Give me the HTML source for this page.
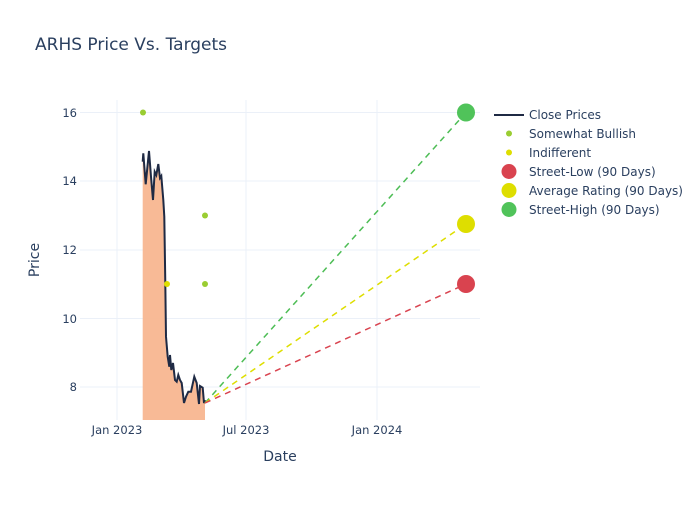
<!DOCTYPE html>
<html><head><meta charset="utf-8"><style>
body{margin:0;background:#fff;}
svg text{font-family:"DejaVu Sans","Liberation Sans",sans-serif;fill:#2a3f5f;}
</style></head><body>
<svg width="700" height="500" xmlns="http://www.w3.org/2000/svg">
<rect width="700" height="500" fill="#fff"/>
<text x="35" y="50" font-size="17">ARHS Price Vs. Targets</text>
<g stroke="#ebf0f8" stroke-width="1">
<line x1="117" y1="100" x2="117" y2="420"/>
<line x1="246" y1="100" x2="246" y2="420"/>
<line x1="377" y1="100" x2="377" y2="420"/>
<line x1="80" y1="112.5" x2="480" y2="112.5"/>
<line x1="80" y1="181" x2="480" y2="181"/>
<line x1="80" y1="250" x2="480" y2="250"/>
<line x1="80" y1="318.5" x2="480" y2="318.5"/>
<line x1="80" y1="387" x2="480" y2="387"/>
</g>
<g font-size="11.5" text-anchor="end">
<text x="77" y="117">16</text><text x="77" y="185">14</text><text x="77" y="254">12</text><text x="77" y="323">10</text><text x="77" y="391">8</text>
</g>
<g font-size="11.5" text-anchor="middle">
<text x="117" y="434">Jan 2023</text><text x="246" y="434">Jul 2023</text><text x="377" y="434">Jan 2024</text>
</g>
<text x="280" y="461" font-size="14" text-anchor="middle">Date</text>
<text transform="translate(39,260) rotate(-90)" font-size="14" text-anchor="middle">Price</text>
<polygon fill="#f8b690" opacity="0.95" points="142.7,420 142.7,161.7 143.3,153.3 145.7,184.3 149,151 151,176.7 153,200 154.7,171.7 156.3,175 158.3,164 160,178 161.3,176 163.3,200 164.3,216.7 165.3,283 166,336.7 167.7,356.7 169.3,366.7 170,355 171.3,370 173,363 175,380 176.7,381.7 178.3,375 180,380 181.7,383 184,403 186,396.7 188.3,391.7 191,391.7 194.3,376.7 196.7,383 199,404 200,386 202.7,387.7 204,403 205,400 205,420"/>
<polyline fill="none" stroke="#1f2a44" stroke-width="2" points="142.7,161.7 143.3,153.3 145.7,184.3 149,151 151,176.7 153,200 154.7,171.7 156.3,175 158.3,164 160,178 161.3,176 163.3,200 164.3,216.7 165.3,283 166,336.7 167.7,356.7 169.3,366.7 170,355 171.3,370 173,363 175,380 176.7,381.7 178.3,375 180,380 181.7,383 184,403 186,396.7 188.3,391.7 191,391.7 194.3,376.7 196.7,383 199,404 200,386 202.7,387.7 204,403 205,400"/>
<g stroke-width="1.5" stroke-dasharray="6,5" fill="none">
<line x1="205" y1="403" x2="466" y2="112.5" stroke="#4dbd55"/>
<line x1="205" y1="403" x2="466" y2="224" stroke="#dede00"/>
<line x1="205" y1="403" x2="466" y2="284" stroke="#d9434f"/>
</g>
<circle cx="143" cy="112.5" r="3" fill="#9acd32"/>
<circle cx="205" cy="215.5" r="3" fill="#9acd32"/>
<circle cx="205" cy="284" r="3" fill="#9acd32"/>
<circle cx="167" cy="284" r="3" fill="#dede00"/>
<circle cx="466" cy="112.5" r="9" fill="#50c35a"/>
<circle cx="466" cy="224" r="9" fill="#dede00"/>
<circle cx="466" cy="284" r="9" fill="#d9434f"/>
<g font-size="12">
<line x1="494" y1="115" x2="524" y2="115" stroke="#1f2a44" stroke-width="2"/>
<text x="529" y="119">Close Prices</text>
<circle cx="509" cy="133.5" r="3" fill="#9acd32"/><text x="529" y="138">Somewhat Bullish</text>
<circle cx="509" cy="152.5" r="3" fill="#dede00"/><text x="529" y="157">Indifferent</text>
<circle cx="509" cy="171.5" r="7.5" fill="#d9434f"/><text x="529" y="176">Street-Low (90 Days)</text>
<circle cx="509" cy="190.5" r="7.5" fill="#dede00"/><text x="529" y="195">Average Rating (90 Days)</text>
<circle cx="509" cy="209.5" r="7.5" fill="#50c35a"/><text x="529" y="214">Street-High (90 Days)</text>
</g>
</svg>
</body></html>
